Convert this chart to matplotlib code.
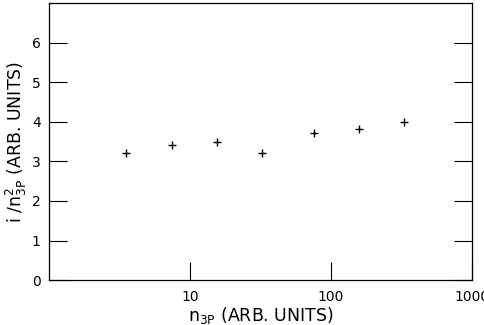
import matplotlib
matplotlib.use('Agg')
import matplotlib.pyplot as plt
from matplotlib.ticker import FixedLocator, NullLocator

# data
n_3p = [3.5, 7.5, 15.5, 32.5, 76, 157, 330]
ratio = [3.22, 3.41, 3.48, 3.22, 3.71, 3.81, 4.0]

x_ticks = [10, 100, 1000]
x_tick_labels = ['10', '100', '1000']
y_ticks = [0, 1, 2, 3, 4, 5, 6]

plt.rcParams['font.family'] = ['DejaVu Sans']

fig = plt.figure(figsize=(4.85, 3.25), dpi=100)
ax = fig.add_axes([0.101, 0.138, 0.872, 0.853])

ax.plot(n_3p, ratio, linestyle='none', marker='+', markersize=6,
        markeredgewidth=1.0, color='black')

ax.set_xscale('log')
ax.set_xlim(1, 1000)
ax.set_ylim(0, 7)

ax.xaxis.set_major_locator(FixedLocator(x_ticks))
ax.xaxis.set_minor_locator(NullLocator())
ax.set_xticklabels(x_tick_labels)
ax.set_yticks(y_ticks)

ax.tick_params(axis='both', which='major', direction='in', length=13,
               width=0.8, labelsize=10, colors='black')
ax.tick_params(axis='y', right=True, pad=6)
ax.tick_params(axis='x', pad=7)

for sp in ax.spines.values():
    sp.set_linewidth(0.9)

ax.set_xlabel(r'n$_{\mathrm{3P}}$ (ARB. UNITS)', fontsize=12.5, labelpad=1)
ax.set_ylabel(r'i /n$^{2}_{\mathrm{3P}}$ (ARB. UNITS)', fontsize=12.5, labelpad=2)

fig.savefig('out.png', dpi=100)
